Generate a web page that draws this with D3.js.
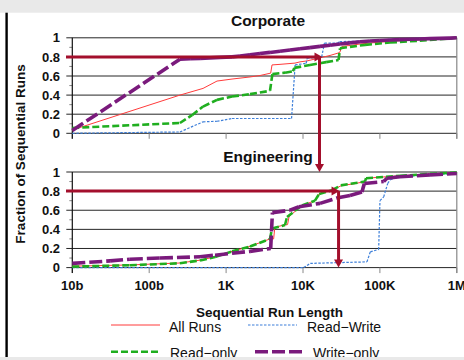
<!DOCTYPE html>
<html>
<head>
<meta charset="utf-8">
<script src="https://cdn.jsdelivr.net/npm/d3@7"></script>
<style>
  html, body { margin: 0; padding: 0; background: #fff; }
  svg { display: block; }
  text { font-family: "Liberation Sans", Arial, Helvetica, sans-serif; fill: #111; }
</style>
</head>
<body>
<svg id="chart" width="464" height="360"></svg>
<script>
// Axis ticks
const runLengthTicks = [10, 100, 1000, 10000, 100000, 1000000];
const runLengthLabels = ["10b", "100b", "1K", "10K", "100K", "1M"];
const fractionTicks = [0, 0.2, 0.4, 0.6, 0.8, 1];
const fractionLabels = ["0", "0.2", "0.4", "0.6", "0.8", "1"];
const fractionMinor = [0.1, 0.3, 0.5, 0.7, 0.9];

const panelTitles = ["Corporate", "Engineering"];
const seriesNames = ["All Runs", "Read\u2212Write", "Read\u2212only", "Write\u2212only"];

// CDF points: [run length in bytes, fraction of sequential runs]
const corporateAll = [[10,0.035],[251,0.40],[501,0.47],[762,0.547],[1194,0.568],[2046,0.59],[2760,0.605],[3800,0.63],[3956,0.716],[5024,0.722],[7874,0.735],[9143,0.748],[11270,0.758],[16640,0.79],[22450,0.815],[30000,0.845],[32130,0.91],[40820,0.92],[55080,0.935],[100200,0.955],[182400,0.97],[332000,0.98],[604000,0.99],[1000000,1.0]];
const corporateReadWrite = [[10,0],[251,0.014],[501,0.12],[762,0.126],[1194,0.155],[7100,0.155],[7900,0.716],[11000,0.733],[11300,0.786],[17500,0.80],[19000,0.944],[28000,0.944],[30000,0.96],[55000,0.965],[182000,0.99],[1000000,1.0]];
const corporateReadOnly = [[10,0.056],[251,0.108],[360,0.19],[501,0.28],[762,0.35],[1194,0.385],[2046,0.41],[3724,0.445],[4000,0.62],[5838,0.635],[7400,0.65],[7700,0.685],[12330,0.715],[20000,0.745],[29000,0.768],[30280,0.89],[40820,0.905],[63990,0.926],[135200,0.95],[330000,0.97],[604000,0.985],[1000000,1.0]];
const corporateWriteOnly = [[10,0.03],[251,0.776],[340,0.78],[458,0.785],[617,0.79],[833,0.795],[1194,0.80],[1517,0.81],[2046,0.822],[2760,0.835],[3724,0.847],[5024,0.86],[6776,0.872],[9143,0.885],[12330,0.897],[16640,0.91],[22450,0.922],[30280,0.935],[40820,0.947],[55080,0.958],[74300,0.966],[100200,0.972],[135200,0.977],[182400,0.981],[246000,0.985],[332000,0.988],[448000,0.991],[604000,0.994],[816000,0.997],[1000000,1.0]];

const engineeringAll = [[10,0.015],[56,0.028],[251,0.048],[458,0.078],[718,0.112],[1194,0.17],[2046,0.222],[3724,0.30],[4150,0.30],[4300,0.42],[5300,0.44],[6300,0.45],[6600,0.535],[9700,0.65],[14320,0.70],[16200,0.77],[23830,0.81],[32000,0.86],[45000,0.875],[63990,0.90],[66000,0.935],[182400,0.96],[448000,0.98],[1000000,0.995]];
const engineeringReadWrite = [[10,0],[10200,0],[12450,0.044],[67900,0.06],[75000,0.165],[96400,0.19],[100200,0.70],[112000,0.74],[126300,0.88],[136500,0.92],[182400,0.95],[448000,0.97],[1000000,0.985]];
const engineeringReadOnly = [[10,0.01],[56,0.025],[251,0.045],[458,0.075],[718,0.11],[1194,0.17],[2046,0.22],[3724,0.30],[3956,0.41],[5838,0.445],[6200,0.53],[9700,0.65],[14320,0.70],[16200,0.77],[23830,0.81],[31000,0.86],[63990,0.90],[66000,0.935],[182400,0.96],[448000,0.98],[1000000,0.995]];
const engineeringWriteOnly = [[10,0.044],[31,0.07],[56,0.088],[138,0.10],[458,0.113],[718,0.13],[1194,0.15],[2046,0.17],[3800,0.20],[4000,0.575],[6776,0.60],[8870,0.636],[16640,0.672],[28500,0.73],[40820,0.755],[58470,0.79],[62700,0.88],[112000,0.90],[123600,0.935],[182400,0.95],[448000,0.97],[1000000,0.985]];

// Highlighted 80th-percentile run lengths
const markFraction = 0.8;
const corporateMark = 16384;
const engineeringMark = 29000;

const seriesStyles = [
  { color: "#ff3b3b", width: 1,   dash: null },
  { color: "#3d7fd9", width: 1.2, dash: "2.5,1.5" },
  { color: "#1fae1f", width: 2.6, dash: "7,3" },
  { color: "#7a1a7c", width: 3.6, dash: "13,4" }
];
const arrowColor = "#a30f2c";

const svg = d3.select("#chart");

const x = d3.scaleLog().domain([10, 1000000]).range([72.3, 456.8]);

const panels = [
  { title: panelTitles[0], titleY: 25.7, y: d3.scaleLinear().domain([0, 1]).range([133.3, 37.8]),
    series: [corporateAll, corporateReadWrite, corporateReadOnly, corporateWriteOnly], showX: false },
  { title: panelTitles[1], titleY: 161.5, y: d3.scaleLinear().domain([0, 1]).range([267.6, 172]),
    series: [engineeringAll, engineeringReadWrite, engineeringReadOnly, engineeringWriteOnly], showX: true }
];

// page frame
svg.append("rect").attr("x", 0).attr("y", 0).attr("width", 464).attr("height", 360).attr("fill", "#fff");

panels.forEach(p => {
  const g = svg.append("g");
  const y = p.y;
  const x0 = x.range()[0], x1 = x.range()[1];

  // horizontal gridlines with short outside ticks
  g.append("g").selectAll("line").data(fractionTicks).join("line")
    .attr("x1", x0 - 6).attr("x2", x1)
    .attr("y1", d => y(d)).attr("y2", d => y(d))
    .attr("stroke", "#262626").attr("stroke-width", 1);

  // minor y ticks
  g.append("g").selectAll("line").data(fractionMinor).join("line")
    .attr("x1", x0 - 3).attr("x2", x0)
    .attr("y1", d => y(d)).attr("y2", d => y(d))
    .attr("stroke", "#888").attr("stroke-width", 1);

  // y tick labels
  g.append("g").selectAll("text").data(fractionTicks).join("text")
    .attr("x", 60).attr("y", d => y(d) + 4.6)
    .attr("text-anchor", "end")
    .style("font-size", "13px").style("font-weight", "bold")
    .text((d, i) => fractionLabels[i]);

  // x ticks (bottom) and right frame line
  g.append("g").selectAll("line").data(runLengthTicks).join("line")
    .attr("x1", d => x(d)).attr("x2", d => x(d))
    .attr("y1", y(0)).attr("y2", y(0) + 5.5)
    .attr("stroke", "#888").attr("stroke-width", 1);
  g.append("line").attr("x1", x1).attr("x2", x1).attr("y1", y(1)).attr("y2", y(0) + 5.5)
    .attr("stroke", "#888").attr("stroke-width", 1.2);

  // left axis line
  g.append("line").attr("x1", x0).attr("x2", x0).attr("y1", y(1)).attr("y2", y(0) + 5.5)
    .attr("stroke", "#111").attr("stroke-width", 1.2);

  if (p.showX) {
    g.append("g").selectAll("text").data(runLengthTicks).join("text")
      .attr("x", d => x(d)).attr("y", y(0) + 22.5)
      .attr("text-anchor", "middle")
      .style("font-size", "13px").style("font-weight", "bold")
      .text((d, i) => runLengthLabels[i]);
  }

  // series, drawn one segment at a time so the dash pattern restarts at every point
  p.series.forEach((data, si) => {
    const st = seriesStyles[si];
    g.append("g").selectAll("line").data(d3.pairs(data)).join("line")
      .attr("x1", d => x(d[0][0])).attr("y1", d => y(d[0][1]))
      .attr("x2", d => x(d[1][0])).attr("y2", d => y(d[1][1]))
      .attr("stroke", st.color).attr("stroke-width", st.width)
      .attr("stroke-dasharray", st.dash)
      .attr("fill", "none");
  });

  // panel title
  svg.append("text").attr("x", 268).attr("y", p.titleY)
    .attr("text-anchor", "middle")
    .style("font-size", "15.5px").style("font-weight", "bold")
    .text(p.title);
});

// arrows marking the 80th-percentile run length
function arrowHead(tx, ty, dir) {
  const L = 8, W = 4.5;
  let pts;
  if (dir === "right") pts = [[tx, ty], [tx - L, ty - W], [tx - L, ty + W]];
  else pts = [[tx, ty], [tx - W, ty - L], [tx + W, ty - L]];
  svg.append("polygon").attr("points", pts.map(q => q.join(",")).join(" ")).attr("fill", arrowColor);
}

const yc = panels[0].y, ye = panels[1].y;
const xc = x(corporateMark), xe = x(engineeringMark);

// Corporate: across to the curve, then down to the engineering panel
svg.append("line").attr("x1", 66).attr("x2", xc - 4).attr("y1", yc(markFraction)).attr("y2", yc(markFraction))
  .attr("stroke", arrowColor).attr("stroke-width", 3);
arrowHead(xc + 3, yc(markFraction), "right");
svg.append("line").attr("x1", xc).attr("x2", xc).attr("y1", yc(markFraction)).attr("y2", ye(1) - 6)
  .attr("stroke", arrowColor).attr("stroke-width", 3);
arrowHead(xc, ye(1), "down");

// Engineering: across, then down to the axis
svg.append("line").attr("x1", 66).attr("x2", xe - 4).attr("y1", ye(markFraction)).attr("y2", ye(markFraction))
  .attr("stroke", arrowColor).attr("stroke-width", 3);
arrowHead(xe + 1, ye(markFraction), "right");
svg.append("line").attr("x1", xe).attr("x2", xe).attr("y1", ye(markFraction)).attr("y2", ye(0) - 6)
  .attr("stroke", arrowColor).attr("stroke-width", 3);
arrowHead(xe, ye(0), "down");

// axis titles
svg.append("text").attr("transform", "translate(25,154) rotate(-90)")
  .attr("text-anchor", "middle")
  .style("font-size", "13.5px").style("font-weight", "bold")
  .text("Fraction of Sequential Runs");
svg.append("text").attr("x", 269.5).attr("y", 316.7)
  .attr("text-anchor", "middle")
  .style("font-size", "13.5px").style("font-weight", "bold")
  .text("Sequential Run Length");

// legend
const legendItems = [
  { x: 111, y: 325,   tx: 169, ty: 331.5 },
  { x: 248, y: 325,   tx: 307, ty: 331.5 },
  { x: 111, y: 351.7, tx: 170, ty: 357.5 },
  { x: 255, y: 351.7, tx: 313, ty: 357.5 }
];
legendItems.forEach((it, i) => {
  const st = seriesStyles[i];
  svg.append("line").attr("x1", it.x).attr("x2", it.x + 49).attr("y1", it.y).attr("y2", it.y)
    .attr("stroke", st.color).attr("stroke-width", st.width).attr("stroke-dasharray", st.dash);
  svg.append("text").attr("x", it.tx).attr("y", it.ty)
    .style("font-size", "14px")
    .text(seriesNames[i]);
});

// window chrome: grey bands and left border
svg.append("rect").attr("x", 0).attr("y", 0).attr("width", 464).attr("height", 12.7).attr("fill", "#e9e9e9");
svg.append("rect").attr("x", 0).attr("y", 357).attr("width", 464).attr("height", 3).attr("fill", "#e9e9e9");
svg.append("rect").attr("x", 5.4).attr("y", 12.7).attr("width", 2.4).attr("height", 344.3).attr("fill", "#000");
</script>
</body>
</html>
